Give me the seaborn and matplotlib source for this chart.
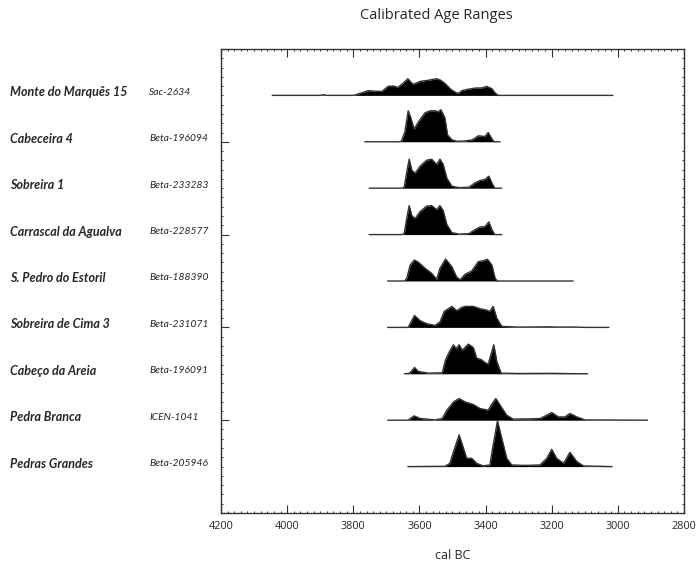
import matplotlib
matplotlib.use('Agg')
import matplotlib.pyplot as plt
import seaborn as sns
import pandas as pd
from matplotlib.ticker import MultipleLocator

# ── Data: calibrated probability distributions (cal BC, relative prob.) ──
sites = ["Monte do Marquês 15", "Cabeceira 4", "Sobreira 1", "Carrascal da Agualva",
         "S. Pedro do Estoril", "Sobreira de Cima 3", "Cabeço da Areia",
         "Pedra Branca", "Pedras Grandes"]
lab_codes = ["Sac-2634", "Beta-196094", "Beta-233283", "Beta-228577", "Beta-188390",
             "Beta-231071", "Beta-196091", "ICEN-1041", "Beta-205946"]

monte_years = [4045, 3900, 3891, 3880, 3800, 3770, 3755, 3735, 3713, 3695, 3680, 3665, 3650,
               3635, 3625, 3619, 3598, 3575, 3548, 3535, 3523, 3505, 3487, 3480, 3472, 3455,
               3432, 3410, 3397, 3381, 3370, 3361, 3015]
monte_prob = [0, 0, 0.7, 0, 0, 3, 4.7, 4.2, 4, 9, 9.5, 8, 12,
              16.7, 13, 11, 14, 15, 16.7, 15, 12, 6, 2.3, 2.5, 4.7, 6,
              7.3, 7.5, 9, 6.7, 2, 0, 0]

cabeceira_years = [3765, 3660, 3654, 3644, 3634, 3626, 3616, 3603, 3583, 3568, 3553, 3543, 3535,
                   3523, 3515, 3502, 3487, 3462, 3440, 3432, 3422, 3402, 3392, 3381, 3374, 3356]
cabeceira_prob = [0, 0, 1, 10, 31, 24, 12.7, 20, 29, 31, 31, 30, 32,
                  24, 7, 2, 0.5, 0.8, 2, 3.7, 6, 5.3, 9.3, 3, 0, 0]

sobreira_years = [3752, 3655, 3646, 3638, 3631, 3623, 3613, 3598, 3578, 3563, 3548, 3538,
                  3528, 3517, 3502, 3480, 3450, 3432, 3417, 3402, 3390, 3381, 3372, 3351]
sobreira_prob = [0, 0, 1, 17, 29, 18, 15, 22, 28, 29, 23.7, 29,
                 23.7, 10, 2, 0.5, 1, 5.3, 7.7, 8.7, 12, 5.3, 0, 0]

carrascal_years = [3752, 3655, 3646, 3638, 3631, 3623, 3613, 3598, 3578, 3563, 3548, 3538,
                   3528, 3517, 3502, 3480, 3450, 3432, 3417, 3402, 3390, 3381, 3372, 3351]
carrascal_prob = [0, 0, 1, 17, 29, 19, 16, 23, 28.5, 29, 25, 29,
                  24, 10, 2, 0.5, 1, 5, 7.5, 8, 12.7, 5, 0, 0]

spedro_years = [3696, 3645, 3638, 3628, 3615, 3603, 3583, 3563, 3548, 3538, 3521, 3502,
                3487, 3477, 3462, 3442, 3422, 3407, 3394, 3381, 3371, 3365, 3135]
spedro_prob = [0, 0, 3, 16, 21, 18.7, 12.7, 7.7, 1.7, 12.7, 22, 14.3,
               3.7, 1.3, 6.7, 10, 19.3, 20.3, 21.7, 16, 2.7, 0, 0]

scima_years = [3696, 3634, 3615, 3598, 3578, 3553, 3538, 3525, 3502, 3487, 3472, 3462, 3437,
               3417, 3397, 3387, 3377, 3366, 3351, 3300, 3210, 3180, 3139, 3100, 3027]
scima_prob = [0, 0, 12, 6.7, 3.7, 2, 5.3, 16, 21, 16.7, 20, 21, 21,
              18.7, 17.3, 16, 21, 9.3, 1, 0.3, 0.6, 0.3, 0.4, 0, 0]

areia_years = [3646, 3630, 3625, 3615, 3603, 3573, 3531, 3521, 3508, 3497, 3489, 3480, 3470,
               3452, 3437, 3427, 3412, 3399, 3392, 3384, 3375, 3366, 3353, 3300, 3200, 3150, 3091]
areia_prob = [0, 0.5, 2.3, 6.3, 2.3, 0.7, 1, 14, 23, 29, 25, 29, 23.7,
              29.7, 26.3, 15.7, 14, 10.7, 9.7, 19, 29, 12.3, 0.7, 0.3, 0.5, 0.2, 0]

branca_years = [3696, 3635, 3616, 3598, 3553, 3531, 3517, 3497, 3480, 3462, 3437, 3417, 3392,
                3380, 3369, 3356, 3336, 3316, 3291, 3266, 3235, 3215, 3200, 3180, 3160, 3145,
                3124, 3099, 2910]
branca_prob = [0, 0, 4.3, 1.7, 0.3, 1.7, 10, 18.3, 21.7, 18.3, 15.7, 11.7, 10,
               16.7, 21.7, 15, 5, 1, 1.3, 1.3, 1.7, 5, 7.7, 3.3, 3.3, 6.7,
               3.3, 0.3, 0]

grandes_years = [3635, 3523, 3508, 3494, 3480, 3470, 3457, 3442, 3427, 3407, 3387, 3377, 3364,
                 3351, 3336, 3321, 3291, 3266, 3235, 3215, 3200, 3185, 3164, 3145, 3124, 3104, 3017]
grandes_prob = [0, 0.3, 3.3, 18, 31.7, 21.7, 8.3, 8.3, 3.3, 0.7, 1.7, 21.7, 46,
                28.3, 8.3, 1.7, 1.3, 1.3, 1.7, 8.3, 17.3, 8.3, 3.3, 14.3, 5, 0.7, 0]

curves = [(monte_years, monte_prob), (cabeceira_years, cabeceira_prob),
          (sobreira_years, sobreira_prob), (carrascal_years, carrascal_prob),
          (spedro_years, spedro_prob), (scima_years, scima_prob),
          (areia_years, areia_prob), (branca_years, branca_prob),
          (grandes_years, grandes_prob)]

SCALE = 1 / 46.4  # probability units -> row height
FONT = "Open Sans"
LABEL_FONT = "Lato"

sns.set_theme(style="ticks")
plt.rcParams['font.family'] = [FONT, 'DejaVu Sans']

fig = plt.figure(figsize=(6.99, 5.63), dpi=100)
ax = fig.add_axes([0.3162, 0.0888, 0.6623, 0.8242])

n = len(sites)
for i, (yrs, prob) in enumerate(curves):
    base = n - i  # row 1 at top
    df = pd.DataFrame({"year": yrs, "y": [base + p * SCALE for p in prob]})
    ax.fill_between(df["year"], base, df["y"], color="black", lw=0)
    sns.lineplot(data=df, x="year", y="y", ax=ax, color="#333333", lw=1.0,
                 sort=False, estimator=None)

    # labels on the left
    ypix_off = 3 / 46.4
    ax.text(-0.456, base + ypix_off, sites[i], transform=ax.get_yaxis_transform(),
            ha="left", va="center", fontsize=9, fontweight="bold", fontstyle="italic",
            family=LABEL_FONT)
    ax.text(-0.1555, base + ypix_off, lab_codes[i], transform=ax.get_yaxis_transform(),
            ha="left", va="center", fontsize=7.4, fontstyle="italic", family=LABEL_FONT)

ax.set_xlim(4200, 2800)
ax.set_ylim(0, 10)
ax.xaxis.set_major_locator(MultipleLocator(200))
ax.xaxis.set_minor_locator(MultipleLocator(20))
ax.yaxis.set_major_locator(MultipleLocator(2))
ax.yaxis.set_minor_locator(MultipleLocator(0.2))
ax.tick_params(which="both", direction="in", top=True, right=True, color="#333333")
ax.tick_params(which="major", length=5.5, width=0.8, labelsize=7.8, pad=6)
ax.tick_params(which="minor", length=1.6, width=0.7)
ax.tick_params(axis="y", which="major", labelleft=False)
ax.tick_params(axis="y", which="major", right=False)
for s in ax.spines.values():
    s.set_linewidth(1.0)
    s.set_color("#333333")
ax.set_xlabel("cal BC", fontsize=9, labelpad=12)
ax.set_ylabel("")

fig.text(0.625, 0.972, "Calibrated Age Ranges", ha="center", va="center", fontsize=10.5)

plt.savefig("out.png", dpi=100)
